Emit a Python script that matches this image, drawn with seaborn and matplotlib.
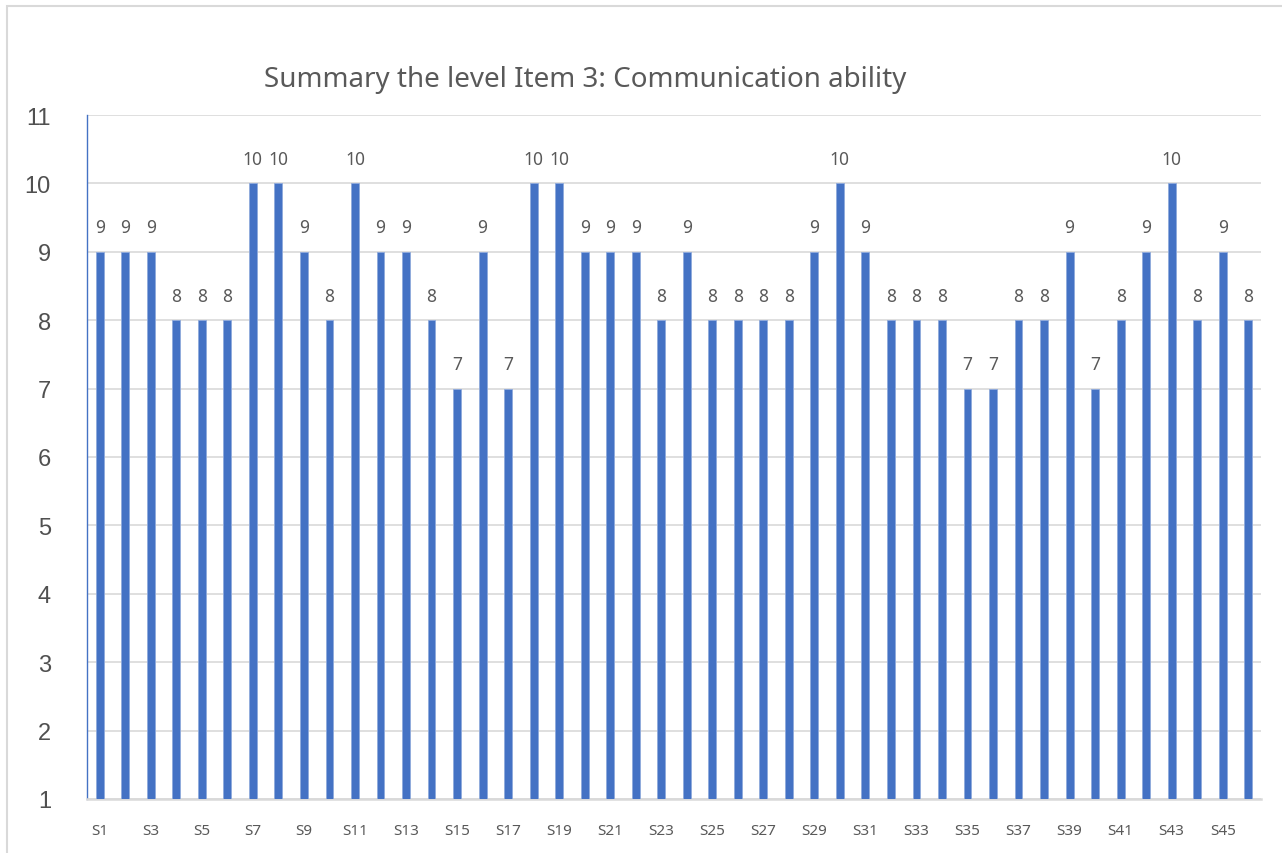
import matplotlib
matplotlib.use("Agg")
import matplotlib.pyplot as plt
import seaborn as sns
import pandas as pd
from matplotlib.patches import Rectangle

students = [f"S{i}" for i in range(1, 47)]
scores = [9, 9, 9, 8, 8, 8, 10, 10, 9, 8,
          10, 9, 9, 8, 7, 9, 7, 10, 10, 9,
          9, 9, 8, 9, 8, 8, 8, 8, 9, 10,
          9, 8, 8, 8, 7, 7, 8, 8, 9, 7,
          8, 9, 10, 8, 9, 8]
y_ticks = list(range(1, 12))
title = "Summary the level Item 3: Communication ability"

df = pd.DataFrame({"student": students, "score": scores})

sns.set_theme(style="white")
plt.rcParams['font.family'] = ['Noto Sans', 'DejaVu Sans']

fig = plt.figure(figsize=(12.82, 8.54), dpi=100)
ax = fig.add_axes([87/1282, 1-800/854, (1261-87)/1282, (800-116)/854])

sns.barplot(data=df, x="student", y="score", color="#4472C4", width=0.31,
            saturation=1, edgecolor="#8FAADC", linewidth=0.6, ax=ax, zorder=3)

ax.set_ylim(1, 11)
ax.set_xlim(-0.5, len(students) - 0.5)
ax.set_yticks(y_ticks)
ax.set_yticklabels([str(t) for t in y_ticks], fontsize=17, color="#505050",
                   family=['Liberation Sans', 'DejaVu Sans'])
ax.set_xticks(range(0, len(students), 2))
ax.set_xticklabels(students[::2], fontsize=11, color="#595959")
ax.set_xlabel("")
ax.set_ylabel("")

ax.yaxis.grid(True, color="#D9D9D9", linewidth=1.2, zorder=0)
ax.set_axisbelow(True)

for side in ["top", "right"]:
    ax.spines[side].set_visible(False)
ax.spines["left"].set_color("#4472C4")
ax.spines["left"].set_linewidth(1.0)
ax.spines["bottom"].set_color("#D9D9D9")
ax.spines["bottom"].set_linewidth(1.8)

ax.tick_params(axis="y", direction="in", length=8, color="#4472C4", width=1.2, pad=26)
ax.tick_params(axis="x", length=0, pad=17)

for i, v in enumerate(scores):
    ax.annotate(str(v), (i, v), xytext=(0, 17.5), textcoords="offset points",
                ha="center", va="center", fontsize=12.5, color="#595959")

fig.text(585/1282, 1-80/854, title, ha="center", va="center", fontsize=20, color="#595959")

fig.patches.append(Rectangle((7/1282, -0.1), 1.2, 1 - 7/854 + 0.1, transform=fig.transFigure,
                             fill=False, edgecolor="#D9D9D9", linewidth=1.5))

fig.savefig("out.png", dpi=100, facecolor="white")
